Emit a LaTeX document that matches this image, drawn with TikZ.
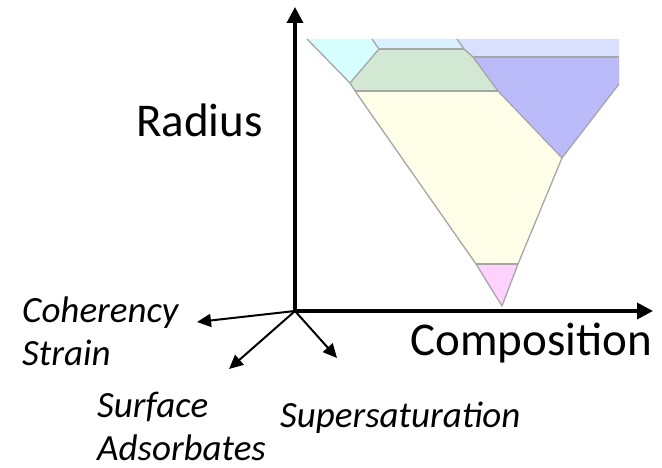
\documentclass[tikz,border=0pt]{standalone}
\usepackage{fontspec}
\setmainfont{Carlito}
\usetikzlibrary{arrows.meta}
\definecolor{edgegray}{HTML}{A6A6A6}
\definecolor{cCyan}{HTML}{D8FFFF}
\definecolor{cLtBlue}{HTML}{D8F0FF}
\definecolor{cLav}{HTML}{D8E0FF}
\definecolor{cGreen}{HTML}{D3E8D3}
\definecolor{cBlue}{HTML}{BBBBF9}
\definecolor{cYellow}{HTML}{FFFFE9}
\definecolor{cPink}{HTML}{FFD2FF}
\tikzset{
  axis/.style={line width=3.5pt,-{Triangle[length=16pt,width=16pt]}},
  subaxis/.style={line width=2pt,-{Triangle[length=14pt,width=13pt]}},
  edge/.style={draw=edgegray,line width=1.3pt,line join=round},
  biglabel/.style={font=\fontsize{47}{54}\selectfont,inner sep=0pt,anchor=base west},
  smalllabel/.style={font=\itshape\fontsize{37}{43}\selectfont,inner sep=0pt,anchor=base west,align=left}
}
\begin{document}
\begin{tikzpicture}[x=1pt,y=-1pt]
\useasboundingbox (0,0) rectangle (662,468);
% regions
\fill[cCyan] (307,39) -- (372,39) -- (379,49) -- (350,83) -- cycle;
\fill[cLtBlue] (372,39) -- (457,39) -- (464,49) -- (379,49) -- cycle;
\fill[cLav] (457,39) -- (619,39) -- (619,57) -- (473,57) -- (464,49) -- cycle;
\fill[cGreen] (379,49) -- (464,49) -- (473,57) -- (498,91) -- (355,91) -- (350,83) -- cycle;
\fill[cBlue] (473,57) -- (619,57) -- (619,84) -- (562,158) -- (498,91) -- cycle;
\fill[cYellow] (355,91) -- (498,91) -- (562,158) -- (518,264) -- (476,264) -- cycle;
\fill[cPink] (476,264) -- (518,264) -- (502,306) -- cycle;
% edges
\draw[edge] (307,39) -- (350,83) -- (355,91) -- (476,264) -- (502,306) -- (518,264) -- (562,158) -- (619,84);
\draw[edge] (372,39) -- (379,49) -- (350,83);
\draw[edge] (379,49) -- (464,49);
\draw[edge] (457,39) -- (464,49) -- (473,57) -- (498,91) -- (562,158);
\draw[edge] (473,57) -- (619,57);
\draw[edge] (355,91) -- (498,91);
\draw[edge] (476,264) -- (518,264);
% axes
\coordinate (O) at (295,311);
\coordinate (ytip) at (295,7);
\coordinate (xtip) at (653,311);
\coordinate (ctip) at (197,322);
\coordinate (stip) at (229,369);
\coordinate (ptip) at (337,358);
\draw[axis] (O) -- (ytip);
\draw[axis] (O) -- (xtip);
\draw[subaxis] (O) -- (ctip);
\draw[subaxis] (O) -- (stip);
\draw[subaxis] (O) -- (ptip);
% labels
\node[biglabel] (radius) at (136,137) {Radius};
\node[biglabel] (comp) at (410,355) {Composition};
\node[smalllabel] (coh) at (22,365) {Coherency\\Strain};
\node[smalllabel] (surf) at (97,460) {Surface\\Adsorbates};
\node[smalllabel] (super) at (280,427) {Supersaturation};
\end{tikzpicture}
\end{document}
